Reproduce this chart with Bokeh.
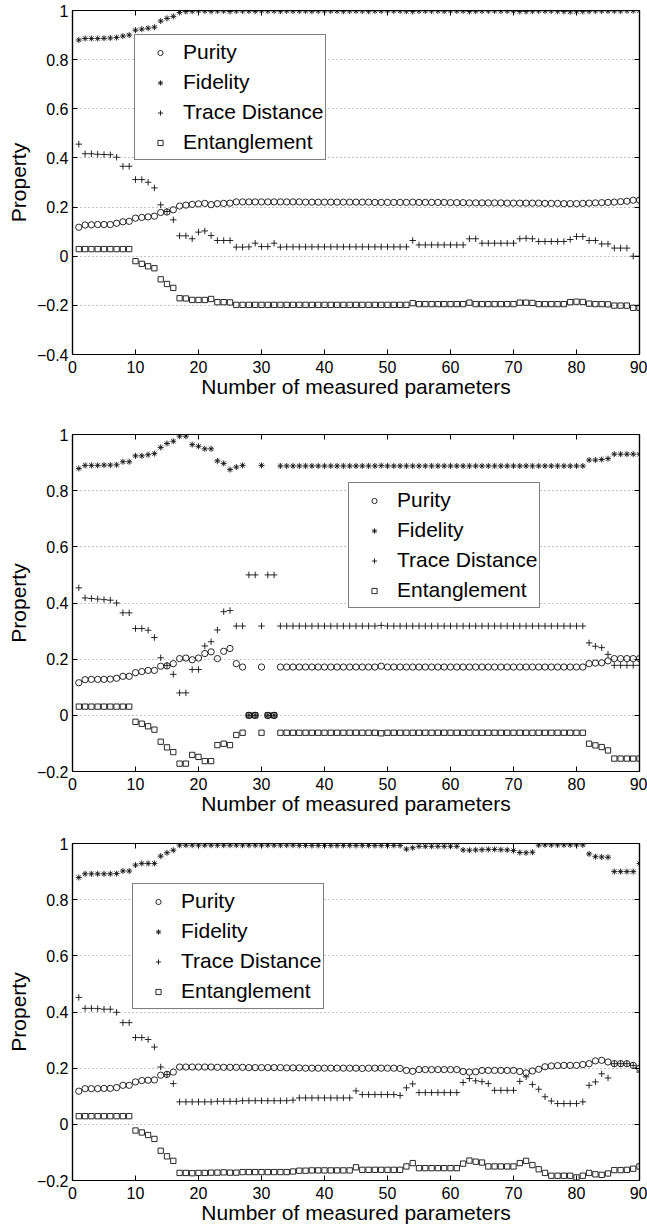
from bokeh.plotting import figure
from bokeh.models import Range1d, FixedTicker, LinearAxis, Legend, LegendItem, ColumnDataSource
from bokeh.layouts import column
from bokeh.embed import file_html
from bokeh.resources import INLINE

FONT = "Liberation Sans"

x_vals = list(range(1, 91))
x_ticks = [0, 10, 20, 30, 40, 50, 60, 70, 80, 90]
series_names = ["Purity", "Fidelity", "Trace Distance", "Entanglement"]
x_label = "Number of measured parameters"
y_label = "Property"

# ---------------- Panel 1 ----------------
pur1 = [0.118, 0.127, 0.128, 0.129, 0.129, 0.129, 0.134, 0.140, 0.142, 0.155,
        0.158, 0.160, 0.163, 0.178, 0.180, 0.189, 0.204, 0.208, 0.211, 0.213,
        0.215, 0.210, 0.214, 0.215, 0.216, 0.221, 0.221, 0.221, 0.221, 0.221,
        0.221, 0.221, 0.221, 0.221, 0.221, 0.221, 0.220, 0.220, 0.220, 0.220,
        0.220, 0.220, 0.220, 0.220, 0.220, 0.220, 0.220, 0.219, 0.219, 0.219,
        0.219, 0.219, 0.219, 0.220, 0.219, 0.219, 0.219, 0.219, 0.219, 0.218,
        0.218, 0.218, 0.217, 0.217, 0.217, 0.217, 0.217, 0.217, 0.216, 0.216,
        0.216, 0.216, 0.216, 0.216, 0.215, 0.215, 0.215, 0.214, 0.214, 0.214,
        0.215, 0.216, 0.217, 0.218, 0.219, 0.220, 0.222, 0.224, 0.228, 0.228]
fid1 = [0.880, 0.886, 0.886, 0.886, 0.887, 0.888, 0.890, 0.896, 0.900, 0.920,
        0.924, 0.928, 0.932, 0.957, 0.968, 0.976, 0.992, 0.996, 0.997, 0.998,
        0.998, 0.997, 0.998, 0.998, 0.996, 0.998, 0.998, 0.998, 0.997, 0.998,
        0.998, 0.998, 0.997, 0.998, 0.998, 0.998, 0.998, 0.997, 0.998, 0.998,
        0.998, 0.998, 0.997, 0.998, 0.998, 0.998, 0.997, 0.998, 0.998, 0.998,
        0.998, 0.998, 0.997, 0.996, 0.998, 0.998, 0.998, 0.998, 0.997, 0.998,
        0.998, 0.998, 0.996, 0.997, 0.998, 0.998, 0.998, 0.998, 0.998, 0.997,
        0.996, 0.996, 0.997, 0.998, 0.998, 0.998, 0.997, 0.996, 0.995, 0.995,
        0.996, 0.997, 0.998, 0.998, 0.998, 0.998, 0.998, 0.999, 0.999, 0.999]
tr1 = [0.456, 0.417, 0.417, 0.415, 0.414, 0.413, 0.403, 0.366, 0.366, 0.312,
       0.312, 0.301, 0.278, 0.209, 0.182, 0.148, 0.083, 0.083, 0.071, 0.098,
       0.103, 0.084, 0.064, 0.064, 0.064, 0.037, 0.037, 0.038, 0.053, 0.039,
       0.039, 0.053, 0.037, 0.038, 0.038, 0.038, 0.038, 0.038, 0.038, 0.038,
       0.038, 0.038, 0.038, 0.038, 0.038, 0.038, 0.038, 0.038, 0.038, 0.038,
       0.038, 0.038, 0.038, 0.064, 0.046, 0.046, 0.046, 0.046, 0.046, 0.046,
       0.046, 0.046, 0.071, 0.071, 0.053, 0.053, 0.053, 0.053, 0.053, 0.053,
       0.071, 0.073, 0.071, 0.060, 0.060, 0.060, 0.060, 0.060, 0.068, 0.080,
       0.080, 0.064, 0.064, 0.050, 0.050, 0.033, 0.033, 0.033, 0.000, 0.000]
ent1 = [0.029, 0.029, 0.029, 0.029, 0.029, 0.029, 0.029, 0.029, 0.029, -0.020,
        -0.031, -0.041, -0.049, -0.094, -0.113, -0.129, -0.171, -0.172, -0.178, -0.178,
        -0.178, -0.174, -0.187, -0.187, -0.188, -0.198, -0.198, -0.198, -0.198, -0.198,
        -0.198, -0.198, -0.198, -0.198, -0.198, -0.198, -0.198, -0.198, -0.198, -0.198,
        -0.198, -0.198, -0.198, -0.198, -0.198, -0.198, -0.198, -0.198, -0.198, -0.198,
        -0.198, -0.198, -0.198, -0.191, -0.195, -0.195, -0.195, -0.195, -0.195, -0.195,
        -0.195, -0.195, -0.189, -0.195, -0.195, -0.195, -0.195, -0.195, -0.195, -0.195,
        -0.189, -0.189, -0.190, -0.195, -0.195, -0.195, -0.195, -0.195, -0.187, -0.185,
        -0.186, -0.193, -0.195, -0.195, -0.196, -0.201, -0.201, -0.201, -0.210, -0.210]

# ---------------- Panel 2 ----------------
pur2 = [0.116, 0.127, 0.128, 0.128, 0.128, 0.129, 0.132, 0.139, 0.139, 0.152,
        0.156, 0.160, 0.160, 0.175, 0.176, 0.184, 0.202, 0.204, 0.198, 0.204,
        0.220, 0.226, 0.202, 0.228, 0.238, 0.184, 0.172, 0.000, 0.000, 0.172,
        0.000, 0.000, 0.172, 0.172, 0.172, 0.172, 0.172, 0.172, 0.172, 0.172,
        0.172, 0.172, 0.172, 0.172, 0.172, 0.172, 0.172, 0.172, 0.175, 0.172,
        0.172, 0.172, 0.172, 0.172, 0.172, 0.172, 0.172, 0.172, 0.172, 0.172,
        0.172, 0.172, 0.172, 0.172, 0.172, 0.172, 0.172, 0.172, 0.172, 0.172,
        0.172, 0.172, 0.172, 0.172, 0.172, 0.172, 0.172, 0.172, 0.172, 0.172,
        0.172, 0.184, 0.186, 0.187, 0.194, 0.202, 0.202, 0.202, 0.202, 0.202]
fid2 = [0.879, 0.890, 0.890, 0.890, 0.891, 0.891, 0.892, 0.903, 0.903, 0.924,
        0.924, 0.928, 0.932, 0.954, 0.968, 0.976, 0.994, 0.994, 0.964, 0.958,
        0.949, 0.949, 0.906, 0.897, 0.875, 0.884, 0.890, 0.000, 0.000, 0.890,
        0.000, 0.000, 0.888, 0.888, 0.888, 0.888, 0.888, 0.888, 0.888, 0.888,
        0.888, 0.888, 0.888, 0.888, 0.888, 0.888, 0.888, 0.888, 0.889, 0.888,
        0.888, 0.888, 0.888, 0.888, 0.888, 0.888, 0.888, 0.888, 0.888, 0.888,
        0.888, 0.888, 0.888, 0.888, 0.888, 0.888, 0.888, 0.888, 0.888, 0.888,
        0.888, 0.888, 0.888, 0.888, 0.888, 0.888, 0.888, 0.888, 0.888, 0.888,
        0.888, 0.909, 0.909, 0.911, 0.914, 0.930, 0.930, 0.930, 0.930, 0.930]
tr2 = [0.454, 0.418, 0.416, 0.414, 0.412, 0.410, 0.400, 0.365, 0.365, 0.309,
       0.309, 0.303, 0.277, 0.205, 0.178, 0.146, 0.080, 0.080, 0.163, 0.163,
       0.247, 0.262, 0.304, 0.369, 0.373, 0.318, 0.318, 0.500, 0.500, 0.318,
       0.500, 0.500, 0.318, 0.318, 0.318, 0.318, 0.318, 0.318, 0.318, 0.318,
       0.318, 0.318, 0.318, 0.318, 0.318, 0.318, 0.318, 0.318, 0.320, 0.318,
       0.318, 0.318, 0.318, 0.318, 0.318, 0.318, 0.318, 0.318, 0.318, 0.318,
       0.318, 0.318, 0.318, 0.318, 0.318, 0.318, 0.318, 0.318, 0.318, 0.318,
       0.318, 0.318, 0.318, 0.318, 0.318, 0.318, 0.318, 0.318, 0.318, 0.318,
       0.318, 0.258, 0.246, 0.241, 0.217, 0.178, 0.178, 0.178, 0.178, 0.178]
ent2 = [0.031, 0.031, 0.031, 0.031, 0.031, 0.031, 0.031, 0.031, 0.031, -0.023,
        -0.030, -0.039, -0.051, -0.094, -0.114, -0.131, -0.172, -0.172, -0.141, -0.148,
        -0.163, -0.163, -0.106, -0.101, -0.106, -0.070, -0.062, 0.000, 0.000, -0.062,
        0.000, 0.000, -0.062, -0.062, -0.062, -0.062, -0.062, -0.062, -0.062, -0.062,
        -0.062, -0.062, -0.062, -0.062, -0.062, -0.062, -0.062, -0.062, -0.064, -0.062,
        -0.062, -0.062, -0.062, -0.062, -0.062, -0.062, -0.062, -0.062, -0.062, -0.062,
        -0.062, -0.062, -0.062, -0.062, -0.062, -0.062, -0.062, -0.062, -0.062, -0.062,
        -0.062, -0.062, -0.062, -0.062, -0.062, -0.062, -0.062, -0.062, -0.062, -0.062,
        -0.062, -0.101, -0.107, -0.113, -0.125, -0.154, -0.154, -0.154, -0.154, -0.154]

# ---------------- Panel 3 ----------------
pur3 = [0.118, 0.127, 0.127, 0.127, 0.128, 0.128, 0.131, 0.139, 0.139, 0.151,
        0.156, 0.157, 0.158, 0.175, 0.178, 0.186, 0.204, 0.204, 0.204, 0.204,
        0.204, 0.204, 0.203, 0.203, 0.203, 0.203, 0.203, 0.202, 0.202, 0.202,
        0.202, 0.202, 0.202, 0.201, 0.201, 0.201, 0.200, 0.200, 0.200, 0.200,
        0.200, 0.200, 0.200, 0.200, 0.200, 0.199, 0.200, 0.200, 0.200, 0.200,
        0.200, 0.199, 0.192, 0.189, 0.195, 0.195, 0.195, 0.195, 0.195, 0.195,
        0.195, 0.188, 0.186, 0.187, 0.192, 0.192, 0.192, 0.192, 0.192, 0.192,
        0.188, 0.183, 0.190, 0.196, 0.205, 0.208, 0.209, 0.210, 0.210, 0.210,
        0.213, 0.216, 0.226, 0.228, 0.222, 0.216, 0.216, 0.216, 0.210, 0.200]
fid3 = [0.879, 0.892, 0.892, 0.892, 0.892, 0.892, 0.893, 0.902, 0.902, 0.923,
        0.929, 0.929, 0.929, 0.955, 0.967, 0.976, 0.994, 0.994, 0.994, 0.994,
        0.994, 0.994, 0.994, 0.994, 0.994, 0.994, 0.994, 0.994, 0.994, 0.994,
        0.994, 0.994, 0.994, 0.994, 0.994, 0.993, 0.993, 0.993, 0.993, 0.993,
        0.993, 0.993, 0.993, 0.993, 0.993, 0.993, 0.993, 0.993, 0.993, 0.993,
        0.993, 0.993, 0.980, 0.985, 0.990, 0.990, 0.990, 0.990, 0.990, 0.990,
        0.990, 0.977, 0.976, 0.977, 0.978, 0.979, 0.979, 0.978, 0.977, 0.975,
        0.968, 0.967, 0.969, 0.994, 0.995, 0.995, 0.995, 0.995, 0.995, 0.995,
        0.995, 0.963, 0.953, 0.952, 0.951, 0.900, 0.900, 0.900, 0.900, 0.929]
tr3 = [0.452, 0.413, 0.413, 0.412, 0.410, 0.410, 0.399, 0.362, 0.362, 0.309,
       0.309, 0.302, 0.275, 0.204, 0.177, 0.145, 0.080, 0.080, 0.080, 0.080,
       0.080, 0.080, 0.082, 0.082, 0.082, 0.082, 0.084, 0.084, 0.084, 0.084,
       0.084, 0.084, 0.084, 0.084, 0.086, 0.094, 0.094, 0.094, 0.094, 0.094,
       0.094, 0.094, 0.094, 0.094, 0.119, 0.106, 0.106, 0.106, 0.106, 0.106,
       0.106, 0.103, 0.130, 0.144, 0.113, 0.113, 0.113, 0.113, 0.113, 0.113,
       0.113, 0.149, 0.163, 0.155, 0.152, 0.145, 0.121, 0.121, 0.121, 0.121,
       0.153, 0.169, 0.142, 0.125, 0.098, 0.083, 0.074, 0.074, 0.074, 0.074,
       0.080, 0.139, 0.151, 0.180, 0.165, 0.216, 0.216, 0.216, 0.210, 0.186]
ent3 = [0.029, 0.029, 0.029, 0.029, 0.029, 0.029, 0.029, 0.029, 0.029, -0.022,
        -0.029, -0.038, -0.052, -0.094, -0.114, -0.130, -0.173, -0.173, -0.174, -0.173,
        -0.173, -0.172, -0.172, -0.171, -0.172, -0.172, -0.170, -0.170, -0.170, -0.170,
        -0.170, -0.170, -0.170, -0.170, -0.168, -0.165, -0.165, -0.164, -0.164, -0.164,
        -0.164, -0.164, -0.164, -0.164, -0.153, -0.162, -0.162, -0.162, -0.162, -0.162,
        -0.162, -0.162, -0.150, -0.138, -0.156, -0.156, -0.156, -0.156, -0.156, -0.156,
        -0.156, -0.140, -0.129, -0.133, -0.136, -0.150, -0.150, -0.150, -0.150, -0.150,
        -0.138, -0.130, -0.145, -0.160, -0.173, -0.183, -0.183, -0.183, -0.183, -0.189,
        -0.183, -0.173, -0.178, -0.180, -0.175, -0.163, -0.163, -0.162, -0.158, -0.150]

y_ticks_a = [-0.4, -0.2, 0, 0.2, 0.4, 0.6, 0.8, 1]
y_ticks_b = [-0.2, 0, 0.2, 0.4, 0.6, 0.8, 1]
y_tick_labels = {-0.4: "\u22120.4", -0.2: "\u22120.2", 0: "0", 0.2: "0.2", 0.4: "0.4",
                 0.6: "0.6", 0.8: "0.8", 1: "1"}

markers = ["circle", "asterisk", "cross", "square"]
sizes = [6.3, 6.0, 6.5, 5.3]


def make_panel(height, b_top, b_bottom, ymin, yticks, data, legend_xy):
    p = figure(width=647, height=height, x_range=Range1d(0, 90), y_range=Range1d(ymin, 1),
               output_backend="svg", toolbar_location=None,
               min_border_left=72, min_border_right=8,
               min_border_top=b_top, min_border_bottom=b_bottom,
               x_axis_label=x_label, y_axis_label=y_label)
    p.outline_line_color = "black"
    p.outline_line_width = 1.2
    p.background_fill_color = "white"
    p.border_fill_color = "white"

    for ax in (p.xaxis[0], p.yaxis[0]):
        ax.major_label_text_font = FONT
        ax.major_label_text_font_size = "16px"
        ax.major_label_text_color = "black"
        ax.axis_label_text_font = FONT
        ax.axis_label_text_font_size = "21px"
        ax.axis_label_text_font_style = "normal"
        ax.axis_label_text_color = "black"
        ax.major_tick_in = 5
        ax.major_tick_out = 0
        ax.minor_tick_line_color = None
        ax.axis_line_width = 1.2
        ax.axis_line_color = "black"
        ax.major_tick_line_color = "black"
    p.xaxis[0].ticker = FixedTicker(ticks=x_ticks)
    p.xaxis[0].major_label_standoff = 6
    p.xaxis[0].axis_label_standoff = -1
    p.yaxis[0].ticker = FixedTicker(ticks=yticks)
    p.yaxis[0].major_label_overrides = {t: y_tick_labels[t] for t in yticks}
    p.yaxis[0].major_label_standoff = 4
    p.yaxis[0].axis_label_standoff = 4

    for loc, tk in (("above", x_ticks), ("right", yticks)):
        ax = LinearAxis(ticker=FixedTicker(ticks=tk), major_label_text_font_size="0px",
                        major_label_text_color=None, major_label_standoff=0,
                        major_tick_in=5, major_tick_out=0, minor_tick_line_color=None,
                        axis_line_color="black", axis_line_width=1.2)
        p.add_layout(ax, loc)

    p.xgrid.visible = False
    p.ygrid.ticker = FixedTicker(ticks=yticks)
    p.ygrid.grid_line_color = "#8c8c8c"
    p.ygrid.grid_line_dash = "1 3"
    p.ygrid.grid_line_width = 1

    items = []
    for name, vals, mk, sz in zip(series_names, data, markers, sizes):
        src = ColumnDataSource(dict(x=x_vals, y=vals))
        r = p.scatter("x", "y", source=src, marker=mk, size=sz, fill_color=None,
                      line_color="#111111", line_width=0.9)
        items.append(LegendItem(label=name, renderers=[r]))
    leg = Legend(items=items, location=legend_xy, label_text_font=FONT,
                 label_text_font_size="21px", label_text_color="black",
                 border_line_color="black", border_line_width=1.2,
                 background_fill_color="white", background_fill_alpha=1,
                 padding=2, spacing=0, margin=0, glyph_width=46, glyph_height=13,
                 label_height=30, label_standoff=0)
    p.add_layout(leg)
    return p


p1 = make_panel(420, 10, 66, -0.4, y_ticks_a, [pur1, fid1, tr1, ent1], (62, 194))
p2 = make_panel(408, 14, 57, -0.2, y_ticks_b, [pur2, fid2, tr2, ent2], (276, 163))
p3 = make_panel(398, 15, 43, -0.2, y_ticks_b, [pur3, fid3, tr3, ent3], (60, 171))

layout = column(p1, p2, p3, spacing=0)
open("out.html", "w").write(file_html(layout, INLINE))
